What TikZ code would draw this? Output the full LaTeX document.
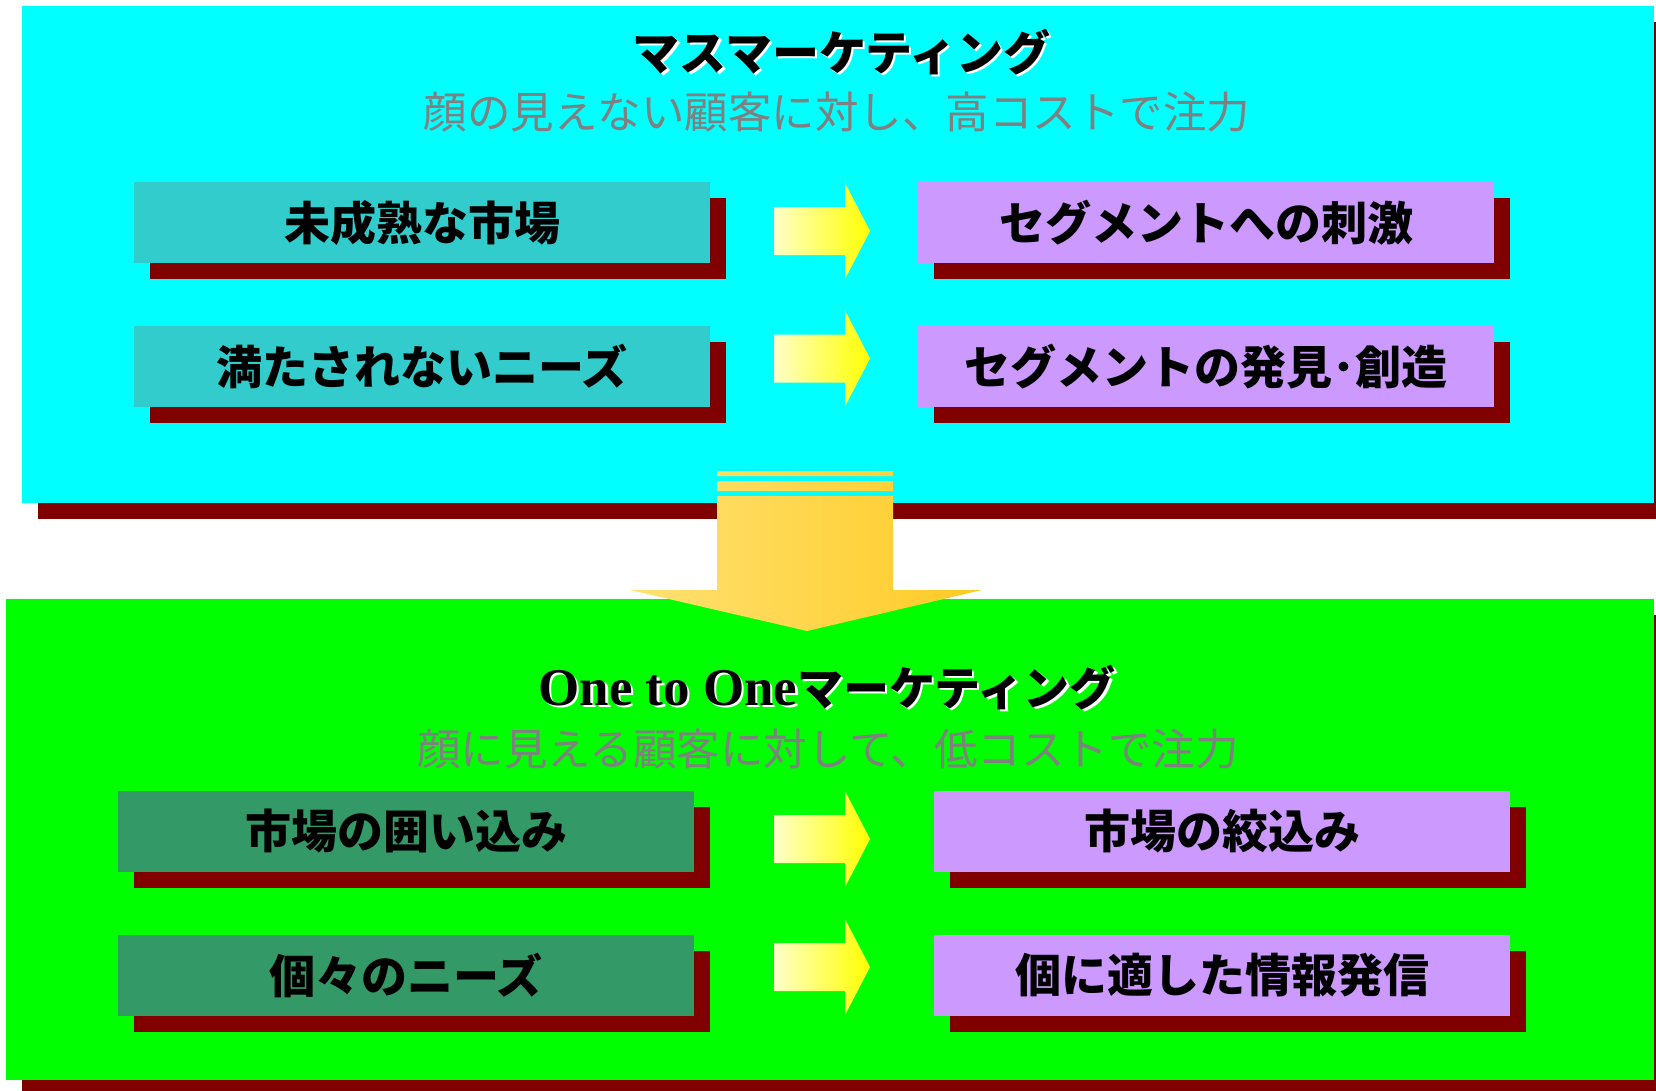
\documentclass[tikz,border=0pt]{standalone}
\usepackage{fontspec}
\newfontfamily\jp{Noto Sans CJK JP}
\newfontfamily\tnr{Liberation Serif}
\usetikzlibrary{shadows}
\definecolor{cyanbg}{RGB}{0,255,255}
\definecolor{greenbg}{RGB}{0,255,0}
\definecolor{shadowred}{RGB}{128,0,0}
\definecolor{tealbox}{RGB}{51,204,204}
\definecolor{lilac}{RGB}{204,153,255}
\definecolor{seagreen}{RGB}{51,153,102}
\definecolor{subgray}{RGB}{128,128,128}
\definecolor{paleyellow}{RGB}{255,255,200}
\definecolor{brightyellow}{RGB}{255,255,0}
\definecolor{goldlight}{RGB}{255,226,116}
\definecolor{golddark}{RGB}{255,202,36}
\tikzset{
  redshadow/.style={drop shadow={shadow xshift=16pt, shadow yshift=-16pt, fill=shadowred, opacity=1}},
  panel/.style={inner sep=0pt, redshadow},
  itembox/.style={minimum width=576pt, minimum height=81pt, inner sep=0pt, redshadow,
    font=\jp\bfseries\fontsize{46}{52}\selectfont, text=black},
  titletext/.style={inner sep=0pt, font=\jp\bfseries\fontsize{47}{52}\selectfont},
  subtext/.style={inner sep=0pt, text=subgray, font=\jp\fontsize{43.5}{48}\selectfont},
  rarrow/.pic={\shade[left color=paleyellow, right color=brightyellow]
    (0,-24) -- (71,-24) -- (71,-48) -- (96,0) -- (71,48) -- (71,24) -- (0,24) -- cycle;}
}
\begin{document}
\begin{tikzpicture}[x=1pt,y=-1pt]
\clip (0,0) rectangle (1656,1090);
\fill[white] (0,0) rectangle (1656,1090);
% panels
\node[panel, fill=cyanbg, minimum width=1632pt, minimum height=497pt] (top) at (838,254.5) {};
\node[panel, fill=greenbg, minimum width=1648pt, minimum height=481pt] (bottom) at (830,839.5) {};
% big down arrow
\shade[left color=goldlight, right color=golddark]
  (717,471) rectangle (893,476)
  (717,481) rectangle (893,491)
  (717,496) -- (893,496) -- (893,590) -- (982,590) -- (807,631) -- (630,590) -- (717,590) -- cycle;
% titles
\node[titletext, text=white] (t1s) at (844,54.5) {マスマーケティング};
\node[titletext, text=black] (t1) at (841.5,52) {マスマーケティング};
\node[subtext] (s1) at (837,112) {顔の見えない顧客に対し、高コストで注力};
\node[inner sep=0pt, anchor=base, text=white] (t2s) at (829.5,707.5) {{\tnr\bfseries\fontsize{53}{58}\selectfont One to One}{\jp\bfseries\fontsize{46}{52}\selectfont マーケティング}};
\node[inner sep=0pt, anchor=base, text=black] (t2) at (827,705) {{\tnr\bfseries\fontsize{53}{58}\selectfont One to One}{\jp\bfseries\fontsize{46}{52}\selectfont マーケティング}};
\node[subtext] (s2) at (828,749) {顔に見える顧客に対して、低コストで注力};
% top boxes
\node[itembox, fill=tealbox] (a1) at (422,222.5) {未成熟な市場};
\node[itembox, fill=tealbox] (a2) at (422,366.5) {満たされないニーズ};
\node[itembox, fill=lilac] (b1) at (1206,222.5) {セグメントへの刺激};
\node[itembox, fill=lilac] (b2) at (1206,366.5) {セグメントの発見･創造};
% bottom boxes
\node[itembox, fill=seagreen] (c1) at (406,831.5) {市場の囲い込み};
\node[itembox, fill=seagreen] (c2) at (406,975.5) {個々のニーズ};
\node[itembox, fill=lilac] (d1) at (1222,831.5) {市場の絞込み};
\node[itembox, fill=lilac] (d2) at (1222,975.5) {個に適した情報発信};
% small arrows
\pic at (774,231) {rarrow};
\pic at (774,358.5) {rarrow};
\pic at (774,839) {rarrow};
\pic at (774,967) {rarrow};
\end{tikzpicture}
\end{document}
